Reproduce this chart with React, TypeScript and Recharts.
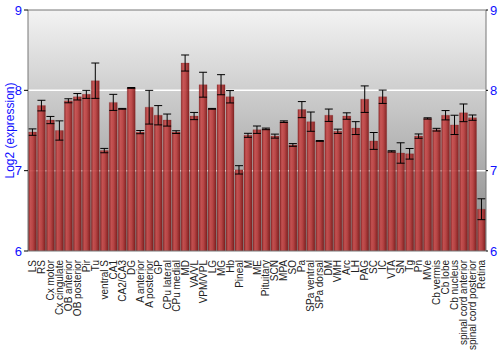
import React from "react";
import { BarChart, Bar, XAxis, YAxis, CartesianGrid, ErrorBar, ReferenceLine, Label } from "recharts";

const categories = [
  "LS", "RS", "Cx motor", "Cx cingulate", "OB anterior", "OB posterior", "Pir", "Tu", "ventral S", "CA1",
  "CA2/CA3", "DG", "A anterior", "A posterior", "GP", "CPu lateral", "CPu medial", "MD", "VA/VL", "VPM/VPL",
  "LG", "MG", "Hb", "Pineal", "M", "ME", "Pituitary", "SCN", "MPA", "SO",
  "Pa", "SPa ventral", "SPa dorsal", "DM", "VMH", "Arc", "LH", "PAG", "SC", "IC",
  "VTA", "SN", "Tg", "Pn", "MVe", "Cb vermis", "Cb lobe", "Cb nucleus", "spinal cord anterior", "spinal cord posterior",
  "Retina",
];

const values = [
  7.48, 7.81, 7.63, 7.50, 7.87, 7.92, 7.95, 8.12, 7.25, 7.85,
  7.77, 8.03, 7.48, 7.79, 7.69, 7.63, 7.48, 8.34, 7.68, 8.07,
  7.77, 8.07, 7.92, 7.01, 7.44, 7.51, 7.52, 7.43, 7.61, 7.32,
  7.76, 7.61, 7.37, 7.69, 7.49, 7.68, 7.53, 7.89, 7.37, 7.92,
  7.24, 7.22, 7.21, 7.43, 7.65, 7.51, 7.69, 7.57, 7.72, 7.66,
  6.52,
];

const errors = [
  0.04, 0.066, 0.045, 0.12, 0.025, 0.04, 0.05, 0.22, 0.027, 0.10,
  0.005, 0.005, 0.02, 0.21, 0.12, 0.075, 0.017, 0.10, 0.045, 0.155,
  0.005, 0.125, 0.077, 0.052, 0.025, 0.046, 0.01, 0.025, 0.01, 0.017,
  0.10, 0.12, 0.005, 0.077, 0.027, 0.04, 0.08, 0.165, 0.105, 0.083,
  0.008, 0.127, 0.066, 0.027, 0.008, 0.017, 0.058, 0.12, 0.11, 0.033,
  0.13,
];

const yTicks = [6, 7, 8, 9];
const gridValues = [7, 8];

const data = categories.map((name, i) => ({ name, value: values[i], err: errors[i] }));

const FONT = "'Liberation Sans', Arial, sans-serif";

const XTick = (props: any) => {
  const { x, y, payload } = props;
  return (
    <text
      x={0}
      y={0}
      transform={`translate(${x + 3.5},${y + 1}) rotate(-90)`}
      textAnchor="end"
      fontSize={10}
      fontFamily={FONT}
      fill="#222"
    >
      {payload.value}
    </text>
  );
};

export default function App() {
  return (
    <div style={{ position: "absolute", left: 0, top: 0, width: 500, height: 350, background: "#fff" }}>
      <BarChart
        width={500}
        height={350}
        data={data}
        margin={{ top: 10, right: 0, bottom: 0, left: 0 }}
        barCategoryGap="5%"
      >
        <defs>
          <linearGradient id="bgGrad" x1="0" y1="0" x2="0" y2="1">
            <stop offset="0%" stopColor="#f3f3f3" />
            <stop offset="100%" stopColor="#858585" />
          </linearGradient>
          <linearGradient id="barGrad" x1="0" y1="0" x2="1" y2="0">
            <stop offset="0%" stopColor="#8a1c1c" />
            <stop offset="25%" stopColor="#c84a4a" />
            <stop offset="55%" stopColor="#bb3c3c" />
            <stop offset="100%" stopColor="#7d1414" />
          </linearGradient>
        </defs>
        <CartesianGrid
          vertical={false}
          horizontalValues={gridValues}
          fill="url(#bgGrad)"
          fillOpacity={1}
          stroke="#ffffff"
          strokeWidth={1.5}
        />
        <XAxis
          dataKey="name"
          interval={0}
          height={99}
          tick={<XTick />}
          tickLine={false}
          axisLine={{ stroke: "#777" }}
        />
        <YAxis
          domain={[6, 9]}
          ticks={yTicks}
          width={28}
          tickSize={4}
          tickMargin={2}
          tick={{ fill: "#1010ff", fontSize: 13, fontFamily: FONT }}
          axisLine={{ stroke: "#777" }}
          tickLine={{ stroke: "#000" }}
          allowDataOverflow
        >
          <Label
            value="Log2 (expression)"
            angle={-90}
            position="center"
            dx={-4}
            style={{ fill: "#1010ff", fontSize: 12, fontFamily: FONT, textAnchor: "middle" }}
          />
        </YAxis>
        <YAxis
          yAxisId="right"
          orientation="right"
          domain={[6, 9]}
          ticks={yTicks}
          width={14}
          tickSize={2}
          tickMargin={2}
          tick={{ fill: "#1010ff", fontSize: 13, fontFamily: FONT, textAnchor: "start" }}
          axisLine={{ stroke: "#777" }}
          tickLine={{ stroke: "#000" }}
          allowDataOverflow
        />
        <ReferenceLine y={9} stroke="#777" strokeWidth={1} />
        <Bar
          dataKey="value"
          fill="url(#barGrad)"
          fillOpacity={0.9}
          stroke="#7a1a1a"
          strokeOpacity={0.4}
          strokeWidth={0.5}
          isAnimationActive={false}
        >
          <ErrorBar dataKey="err" width={4} stroke="#000" strokeWidth={1} direction="y" />
        </Bar>
      </BarChart>
    </div>
  );
}
